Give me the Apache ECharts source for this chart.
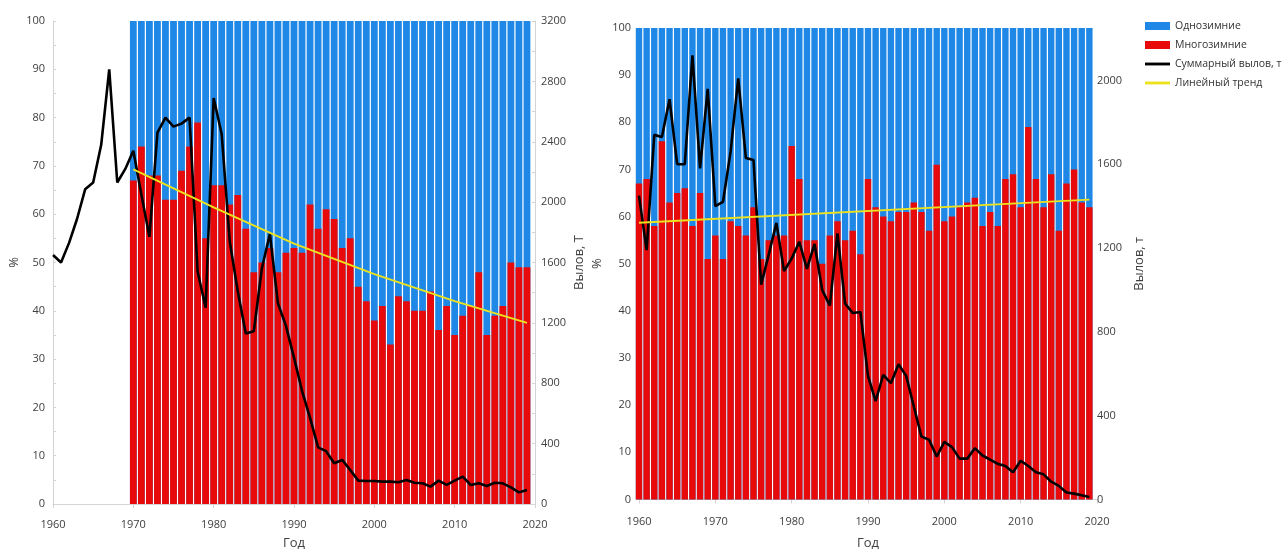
<!DOCTYPE html>
<html>
<head>
<meta charset="utf-8">
<script src="https://cdn.jsdelivr.net/npm/echarts@6/dist/echarts.min.js"></script>
<style>
  html, body { margin: 0; padding: 0; background: #ffffff; }
  #chart { width: 1283px; height: 549px; }
</style>
</head>
<body>
<div id="chart"></div>
<script>
// ---------- Левая панель ----------
// Доля многозимних особей, % (1970–2019)
const leftBarStartYear = 1970;
const leftMultiWinter = [
  67, 74, 68, 68, 63, 63, 69, 74, 79, 55,
  66, 66, 62, 64, 57, 48, 50, 53, 48, 52,
  53, 52, 62, 57, 61, 59, 53, 55, 45, 42,
  38, 41, 33, 43, 42, 40, 40, 44, 36, 41,
  35, 39, 41, 48, 35, 39, 41, 50, 49, 49
];
// Суммарный вылов, т (1960–2019)
const leftCatchStartYear = 1960;
const leftCatch = [
  1650, 1600, 1730, 1890, 2085, 2130, 2380, 2880, 2130, 2220,
  2340, 2050, 1770, 2460, 2560, 2500, 2520, 2560, 1540, 1300,
  2690, 2450, 1740, 1410, 1130, 1145, 1560, 1790, 1330, 1180,
  970, 750, 570, 375, 350, 270, 292, 225, 155, 152,
  152, 148, 148, 144, 159, 141, 137, 115, 155, 126,
  155, 181, 126, 137, 119, 141, 137, 110, 77, 93
];
// Тренд доли многозимних, %
const leftTrendYears = [1970, 1980, 1990, 2000, 2010, 2019];
const leftTrendValues = [69.3, 61.4, 53.9, 47.6, 42.0, 37.5];

// ---------- Правая панель ----------
const rightBarStartYear = 1960;
const rightMultiWinter = [
  67, 68, 58, 76, 63, 65, 66, 58, 65, 51,
  56, 51, 59, 58, 56, 62, 51, 55, 56, 56,
  75, 68, 55, 55, 50, 56, 59, 55, 57, 52,
  68, 62, 60, 59, 61, 61, 63, 61, 57, 71,
  59, 60, 62, 63, 64, 58, 61, 58, 68, 69,
  62, 79, 68, 62, 69, 57, 67, 70, 63, 62
];
const rightCatchStartYear = 1960;
const rightCatch = [
  1450, 1190, 1740, 1730, 1910, 1600, 1600, 2120, 1580, 1960,
  1400, 1420, 1660, 2010, 1630, 1620, 1025, 1170, 1320, 1090,
  1150, 1230, 1100, 1220, 1000, 925, 1270, 935, 890, 895,
  590, 470, 595, 555, 645, 590, 445, 300, 285, 205,
  275, 250, 195, 195, 245, 210, 190, 170, 160, 130,
  185, 160, 130, 120, 85, 65, 33, 28, 20, 12
];
const rightTrendYears = [1960, 2019];
const rightTrendValues = [58.7, 63.6];

// Подписи осей
const yearTicks = [1960, 1970, 1980, 1990, 2000, 2010, 2020];
const pctTicks = [0, 10, 20, 30, 40, 50, 60, 70, 80, 90, 100];

const NAME_ONE = 'Однозимние';
const NAME_MULTI = 'Многозимние';
const NAME_CATCH = 'Суммарный вылов, т';
const NAME_TREND = 'Линейный тренд';

const COLOR_BLUE = '#1F88E6';
const COLOR_RED = '#E80A0A';
const COLOR_TREND = '#EDE21E';
const FONT = "'Open Sans', 'Noto Sans', sans-serif";
const TEXT_COLOR = '#404040';
const AXIS_COLOR = '#D4D4D4';
const LINE_ICON = 'path://M0,0 L26,0 L26,3 L0,3 Z';

const plain = (v) => String(v);
const pairs = (start, arr) => arr.map((v, i) => [start + i, v]);
// Однозимние занимают всю оставшуюся до 100 % часть столбца:
// полный столбец рисуется под столбцом многозимних
const fullColumn = (start, arr) => arr.map((v, i) => [start + i, pctTicks[pctTicks.length - 1]]);
const zip = (xs, ys) => xs.map((x, i) => [x, ys[i]]);

function xAxisFor(gridIndex, labelMargin, nameGap) {
  return {
    type: 'value', gridIndex,
    min: yearTicks[0], max: yearTicks[yearTicks.length - 1], interval: 10,
    name: 'Год', nameLocation: 'middle', nameGap,
    nameTextStyle: { fontFamily: FONT, fontSize: 13, color: TEXT_COLOR },
    axisLine: { show: true, lineStyle: { color: AXIS_COLOR, width: 1 } },
    axisTick: { show: true, length: 4, lineStyle: { color: AXIS_COLOR } },
    minorTick: { show: false },
    axisLabel: { fontFamily: FONT, fontSize: 11, color: TEXT_COLOR, margin: labelMargin, formatter: plain },
    splitLine: { show: false }
  };
}

function pctAxisFor(gridIndex, nameGap) {
  return {
    type: 'value', gridIndex, position: 'left',
    min: pctTicks[0], max: pctTicks[pctTicks.length - 1], interval: 10,
    name: '%', nameLocation: 'middle', nameGap, nameRotate: 90,
    nameTextStyle: { fontFamily: FONT, fontSize: 13, color: TEXT_COLOR },
    axisLine: { show: true, lineStyle: { color: AXIS_COLOR, width: 1 } },
    axisTick: { show: true, inside: true, length: 3, lineStyle: { color: AXIS_COLOR } },
    minorTick: { show: true, splitNumber: 2, length: 3, lineStyle: { color: AXIS_COLOR } },
    axisLabel: { fontFamily: FONT, fontSize: 11, color: TEXT_COLOR, margin: 8, formatter: plain },
    splitLine: { show: false }
  };
}

function catchAxisFor(gridIndex, max, name, nameGap, offset) {
  return {
    type: 'value', gridIndex, position: 'right', offset,
    min: 0, max, interval: 400,
    name, nameLocation: 'middle', nameGap, nameRotate: 90,
    nameTextStyle: { fontFamily: FONT, fontSize: 13, color: TEXT_COLOR },
    axisLine: { show: true, lineStyle: { color: AXIS_COLOR, width: 1 } },
    axisTick: { show: true, inside: true, length: 3, lineStyle: { color: AXIS_COLOR } },
    minorTick: { show: true, splitNumber: 2, length: 3, lineStyle: { color: AXIS_COLOR } },
    axisLabel: {
      fontFamily: FONT, fontSize: 11, color: TEXT_COLOR, margin: 6,
      showMaxLabel: max % 400 === 0, formatter: plain
    },
    splitLine: { show: false }
  };
}

function panelSeries(gridIdx, barStart, multi, catchStart, catchArr, trendX, trendY, barWidth) {
  const xi = gridIdx, yPct = gridIdx * 2, yCatch = gridIdx * 2 + 1;
  return [
    {
      name: NAME_ONE, type: 'bar', xAxisIndex: xi, yAxisIndex: yPct,
      barWidth, barGap: '-100%', data: fullColumn(barStart, multi),
      itemStyle: { color: COLOR_BLUE }, silent: true, z: 2
    },
    {
      name: NAME_MULTI, type: 'bar', xAxisIndex: xi, yAxisIndex: yPct,
      barWidth, barGap: '-100%', data: pairs(barStart, multi),
      itemStyle: { color: COLOR_RED }, silent: true, z: 3
    },
    {
      name: NAME_CATCH, type: 'line', xAxisIndex: xi, yAxisIndex: yCatch,
      data: pairs(catchStart, catchArr), symbol: 'none', showSymbol: false, smooth: false,
      lineStyle: { color: '#000000', width: 2.6 }, itemStyle: { color: '#000000' },
      z: 4, silent: true
    },
    {
      name: NAME_TREND, type: 'line', xAxisIndex: xi, yAxisIndex: yPct,
      data: zip(trendX, trendY), symbol: 'none', showSymbol: false, smooth: false,
      lineStyle: { color: COLOR_TREND, width: 2 }, itemStyle: { color: COLOR_TREND },
      z: 5, silent: true
    }
  ];
}

const chart = echarts.init(document.getElementById('chart'), null, { renderer: 'canvas' });

chart.setOption({
  animation: false,
  backgroundColor: '#ffffff',
  textStyle: { fontFamily: FONT },
  grid: [
    { left: 53, top: 21, width: 482, height: 483, outerBoundsMode: 'none', containLabel: false },
    { left: 639, top: 28, width: 458, height: 471.5, outerBoundsMode: 'none', containLabel: false }
  ],
  legend: {
    orient: 'vertical', left: 1140, top: 14, width: 143,
    itemWidth: 25, itemHeight: 8, itemGap: 5,
    selectedMode: false, symbolKeepAspect: true,
    textStyle: { fontFamily: FONT, fontSize: 10.5, color: '#333333', lineHeight: 14, overflow: 'none' },
    data: [
      { name: NAME_ONE, icon: 'rect' },
      { name: NAME_MULTI, icon: 'rect' },
      { name: NAME_CATCH, icon: LINE_ICON },
      { name: NAME_TREND, icon: LINE_ICON }
    ]
  },
  xAxis: [xAxisFor(0, 15, 33), xAxisFor(1, 17, 37)],
  yAxis: [
    pctAxisFor(0, 32),
    catchAxisFor(0, 3200, 'Вылов, Т', 38, 0),
    pctAxisFor(1, 35),
    catchAxisFor(1, 2250, 'Вылов, т', 42, -6)
  ],
  series: [
    ...panelSeries(0, leftBarStartYear, leftMultiWinter, leftCatchStartYear, leftCatch,
                   leftTrendYears, leftTrendValues, 6.8),
    ...panelSeries(1, rightBarStartYear, rightMultiWinter, rightCatchStartYear, rightCatch,
                   rightTrendYears, rightTrendValues, 6.4)
  ]
});
</script>
</body>
</html>
